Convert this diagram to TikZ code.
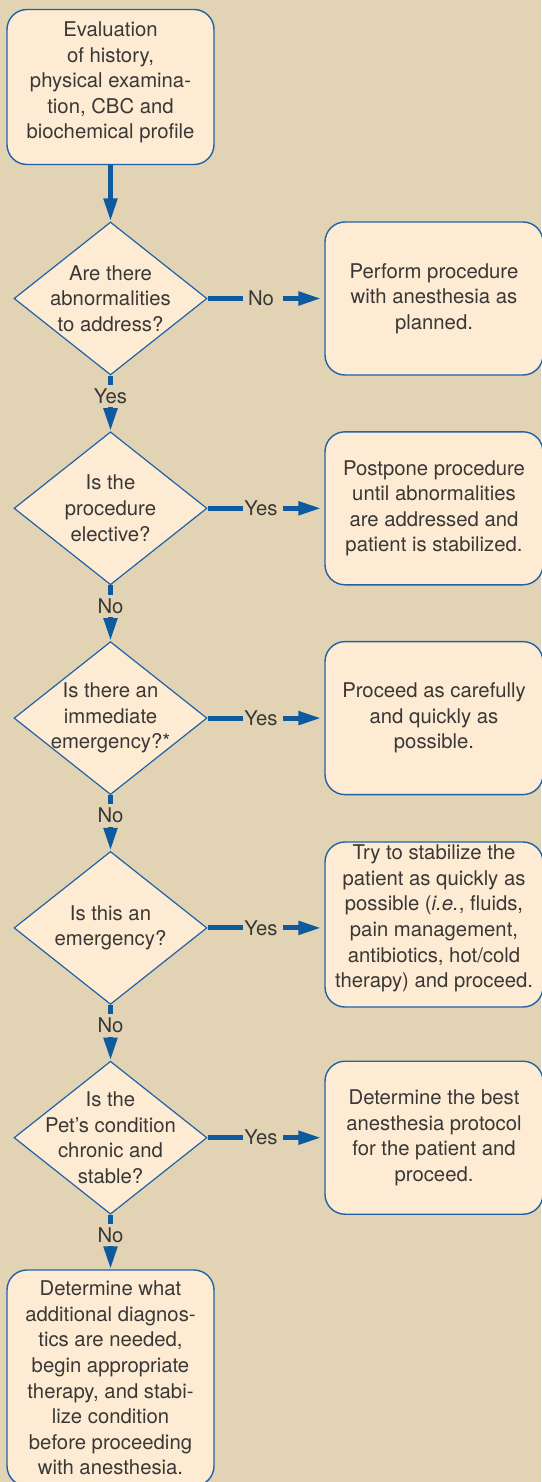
\documentclass[tikz,border=0pt]{standalone}
\usepackage{fontspec}
\setmainfont{TeX Gyre Heros}
\usetikzlibrary{shapes.geometric,arrows.meta}
\definecolor{bg}{HTML}{E3D3B5}
\definecolor{cream}{HTML}{FDEBD3}
\definecolor{edge}{HTML}{1F63A6}
\definecolor{arrowblue}{HTML}{0D5A9E}
\definecolor{ink}{HTML}{3A3836}
\begin{document}
\begin{tikzpicture}[x=1pt,y=-1pt,
  every node/.style={font=\fontsize{20.3pt}{25.6pt}\selectfont, text=ink},
  txt/.style={align=center, inner sep=0pt},
  box/.style={draw=edge, fill=cream, line width=1.4pt, rounded corners=20pt, inner sep=0pt},
  leftbox/.style={box, minimum width=207pt},
  rightbox/.style={box, minimum width=218pt, minimum height=153pt},
  decision/.style={draw=edge, fill=cream, line width=1.2pt, diamond, inner sep=0pt,
                   minimum width=193pt, minimum height=153pt},
  conn/.style={draw=arrowblue, line width=5pt},
  arr/.style={conn, -{Triangle[length=23pt,width=13pt]}},
  lab/.style={inner sep=0pt, minimum width=36pt, minimum height=22pt},
]
\fill[bg] (0,0) rectangle (541,1482);
\useasboundingbox (0,0) rectangle (541,1482);

% left column
\node[leftbox, minimum height=155pt] (start) at (110.5,87) {};
\node[txt] (startt) at (110.5,82.5) {Evaluation\\of history,\\physical examina-\\tion, CBC and\\biochemical profile};

\node[decision] (d1) at (110.5,298.5) {};
\node[txt] (d1t) at (d1) {Are there\\abnormalities\\to address?};
\node[decision] (d2) at (110.5,508.3) {};
\node[txt] (d2t) at (d2) {Is the\\procedure\\elective?};
\node[decision] (d3) at (110.5,718.1) {};
\node[txt] (d3t) at (d3) {Is there an\\immediate\\emergency?*};
\node[decision] (d4) at (110.5,927.9) {};
\node[txt] (d4t) at (d4) {Is this an\\emergency?};
\node[decision] (d5) at (110.5,1137.7) {};
\node[txt] (d5t) at (d5) {Is the\\Pet’s condition\\chronic and\\stable?};

\node[leftbox, minimum height=216pt] (end) at (110.5,1378) {};
\node[txt] (endt) at (end) {Determine what\\additional diagnos-\\tics are needed,\\begin appropriate\\therapy, and stabi-\\lize condition\\before proceeding\\with anesthesia.};

% right column
\node[rightbox] (b1) at (434,298.5) {};
\node[txt] (b1t) at (b1) {Perform procedure\\with anesthesia as\\planned.};
\node[rightbox] (b2) at (434,508.3) {};
\node[txt] (b2t) at (b2) {Postpone procedure\\until abnormalities\\are addressed and\\patient is stabilized.};
\node[rightbox] (b3) at (434,718.1) {};
\node[txt] (b3t) at (b3) {Proceed as carefully\\and quickly as\\possible.};
\node[rightbox, minimum height=165pt] (b4) at (434,924.5) {};
\node[txt] (b4t) at (434,918.5) {Try to stabilize the\\patient as quickly as\\possible (\textit{i.e.}, fluids,\\pain management,\\antibiotics, hot/cold\\therapy) and proceed.};
\node[rightbox] (b5) at (434,1137.7) {};
\node[txt] (b5t) at (b5) {Determine the best\\anesthesia protocol\\for the patient and\\proceed.};

% horizontal labels
\node[lab] (h1) at (261,298.5) {No};
\node[lab] (h2) at (261,508.3) {Yes};
\node[lab] (h3) at (261,718.1) {Yes};
\node[lab] (h4) at (261,927.9) {Yes};
\node[lab] (h5) at (261,1137.7) {Yes};

% vertical labels
\node[lab] (v1) at (110.5,396) {Yes};
\node[lab] (v2) at (110.5,605.8) {No};
\node[lab] (v3) at (110.5,815.6) {No};
\node[lab] (v4) at (110.5,1025.4) {No};
\node[lab] (v5) at (110.5,1235.2) {No};

% connectors
\draw[arr] (start.south) -- (d1.north);
\foreach \i/\j in {1/2,2/3,3/4,4/5}{
  \draw[conn] (d\i.south) -- (v\i.north);
  \draw[arr] (v\i.south) -- (d\j.north);
}
\draw[conn] (d5.south) -- (v5.north);
\draw[arr] (v5.south) -- (end.north);
\foreach \i in {1,...,5}{
  \draw[conn] (d\i.east) -- (h\i.west);
  \draw[arr, shorten <=4pt, shorten >=3pt] (h\i.east) -- (h\i.east -| b\i.west);
}
\end{tikzpicture}
\end{document}
